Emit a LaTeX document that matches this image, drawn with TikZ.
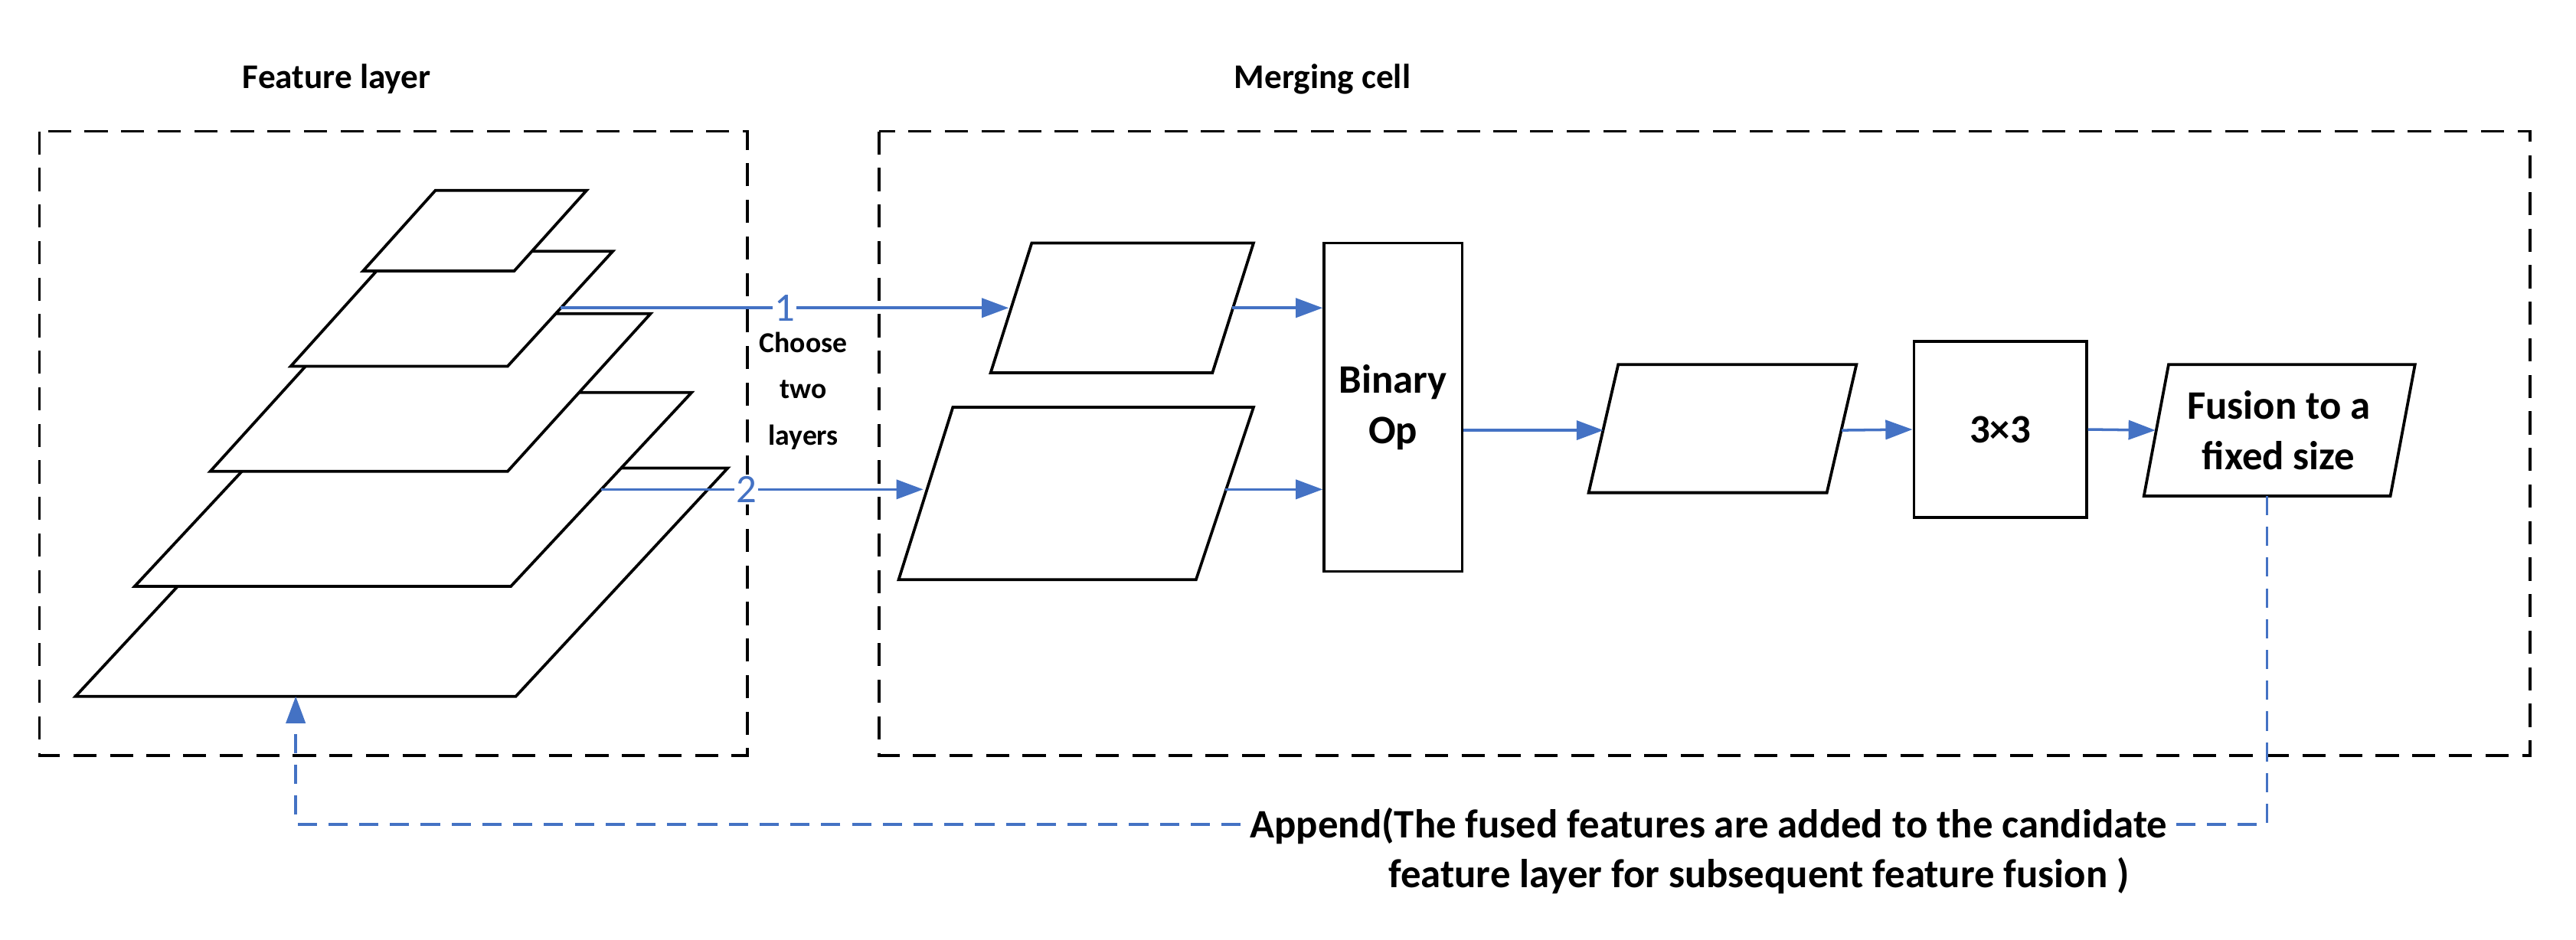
\documentclass[tikz,border=0pt]{standalone}
\usepackage{fontspec}
\setmainfont{Carlito}
\usetikzlibrary{arrows.meta}
\definecolor{cblue}{HTML}{4472C4}
\tikzset{
  frame/.style={dashed,dash pattern=on 12pt off 7pt,line width=1.4pt},
  plane/.style={line width=1.5pt,fill=white},
  link/.style={cblue,line width=1.4pt,-{Triangle[length=14pt,width=10pt]}},
  lbl/.style={font=\bfseries\fontsize{18}{21}\selectfont},
  boxlbl/.style={font=\bfseries\fontsize{21}{26}\selectfont}
}
\begin{document}
\begin{tikzpicture}[x=0.03cm,y=-0.03cm]
  \useasboundingbox (0,0) rectangle (1568,572);
  % frames and titles
  \draw[frame] (24,80) rectangle (455,460);
  \draw[frame] (535,80) rectangle (1540,460);
  \node[lbl] (tfeat) at (205,48) {Feature layer};
  \node[lbl] (tmerge) at (805,48) {Merging cell};
  % feature pyramid, bottom to top
  \draw[plane] (175,285) -- (443,285) -- (314,424) -- (46,424) -- cycle;
  \draw[plane] (192,239) -- (421,239) -- (311,357) -- (82,357) -- cycle;
  \draw[plane] (215,191) -- (396,191) -- (309,287) -- (128,287) -- cycle;
  \draw[plane] (240,153) -- (373,153) -- (309,223) -- (177,223) -- cycle;
  \draw[plane] (265,116) -- (357,116) -- (313,165) -- (221,165) -- cycle;
  \coordinate (l1) at (341,187.5);
  \coordinate (l2) at (366,298);
  % chosen layers
  \draw[plane] (628,148) -- (763,148) -- (738,227) -- (603,227) -- cycle;
  \draw[plane] (580,248) -- (763,248) -- (728,353) -- (547,353) -- cycle;
  \coordinate (pa) at (614,187.5);
  \coordinate (pb) at (562,298);
  \coordinate (pao) at (750,187.5);
  \coordinate (pbo) at (746,298);
  \node[draw,line width=1.5pt,minimum width=84*0.03cm,minimum height=200*0.03cm,boxlbl,align=center]
    (binop) at (848,248) {Binary\\Op};
  \draw[plane] (985,222) -- (1130,222) -- (1112,300) -- (967,300) -- cycle;
  \coordinate (pci) at (976,262);
  \coordinate (pco) at (1121,262);
  \node[draw,line width=1.5pt,minimum width=105*0.03cm,minimum height=107*0.03cm,boxlbl]
    (conv) at (1217.5,261.5) {3×3};
  \draw[plane] (1320,222) -- (1470,222) -- (1455,302) -- (1305,302) -- cycle;
  \node[boxlbl,align=center] (fuse) at (1387,262) {Fusion to a\\fixed size};
  \coordinate (fi) at (1312,262);
  \coordinate (fb) at (1380,302);
  % connectors
  \draw[link] (l1) -- node[pos=0.5,fill=white,inner sep=1pt,font=\fontsize{21}{24}\selectfont]{1} (pa);
  \draw[link] (l2) -- node[pos=0.45,fill=white,inner sep=1pt,font=\fontsize{21}{24}\selectfont]{2} (pb);
  \node[font=\bfseries\fontsize{15}{24}\selectfont,align=center] (choose) at (489,238) {Choose\\two\\layers};
  \draw[link] (pao) -- (binop.west |- pao);
  \draw[link] (pbo) -- (binop.west |- pbo);
  \draw[link] (binop.east |- pci) -- (pci);
  \draw[link] (pco) -- (conv.west);
  \draw[link] (conv.east) -- (fi);
  % append path
  \coordinate (c1) at (1380,502);
  \coordinate (c2) at (180,502);
  \coordinate (bot) at (180,424);
  \draw[link,dashed,dash pattern=on 10pt off 6pt] (fb) -- (c1) -- (c2) -- (bot);
  \node[boxlbl,align=center,fill=white,inner sep=2pt] (append) at (1040,518)
    {Append(The fused features are added to the candidate\\\hspace*{2.5em}feature layer for subsequent feature fusion )};
\end{tikzpicture}
\end{document}
